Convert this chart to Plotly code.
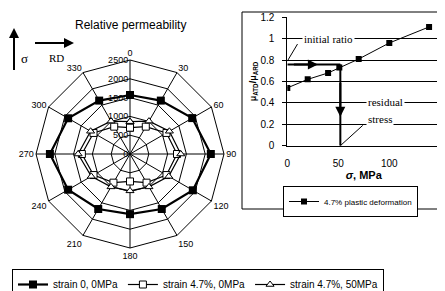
import plotly.graph_objects as go

# ---- data ----
angles = ["0", "30", "60", "90", "120", "150", "180", "210", "240", "270", "300", "330"]
strain0_0mpa = [1570, 1640, 1910, 2150, 1930, 1690, 1600, 1690, 1900, 2130, 1900, 1640]
strain47_0mpa = [700, 840, 1120, 1250, 1120, 880, 730, 880, 1120, 1280, 1120, 840]
strain47_50mpa = [860, 1010, 1210, 1350, 1190, 1010, 980, 1010, 1190, 1380, 1210, 1010]

stress_mpa = [0, 20, 40, 51, 70, 100, 139]
ratio = [0.54, 0.62, 0.68, 0.73, 0.81, 0.96, 1.11]

# page body has an 8px margin; figure sized to fit the window exactly
OFF = 8
W, H = 445 - OFF, 291 - OFF
def px(x):
    return (x - OFF) / W
def py(y):
    return 1 - (y - OFF) / H

fig = go.Figure()

def closed(v):
    return list(v) + [v[0]]

fig.add_trace(go.Scatterpolar(
    r=closed(strain0_0mpa), theta=closed(angles), mode="lines+markers",
    name="strain 0, 0MPa", line=dict(color="black", width=2.2),
    marker=dict(symbol="square", size=8, color="black"), legend="legend"))
fig.add_trace(go.Scatterpolar(
    r=closed(strain47_0mpa), theta=closed(angles), mode="lines+markers",
    name="strain 4.7%, 0MPa", line=dict(color="black", width=1.2),
    marker=dict(symbol="square", size=7, color="white", line=dict(color="black", width=1)),
    legend="legend"))
fig.add_trace(go.Scatterpolar(
    r=closed(strain47_50mpa), theta=closed(angles), mode="lines+markers",
    name="strain 4.7%, 50MPa", line=dict(color="black", width=1.2),
    marker=dict(symbol="triangle-up", size=7, color="white", line=dict(color="black", width=1)),
    legend="legend"))

fig.add_trace(go.Scatter(
    x=stress_mpa, y=ratio, mode="lines+markers", name="4.7% plastic deformation",
    line=dict(color="black", width=1), marker=dict(symbol="square", size=6, color="black"),
    xaxis="x", yaxis="y", legend="legend2"))

cx, cy, R = 130, 154, 94
fig.update_layout(
    width=W, height=H,
    margin=dict(l=0, r=0, t=0, b=0, autoexpand=False),
    paper_bgcolor="white", plot_bgcolor="white",
    font=dict(family="Liberation Sans, Arial", size=9, color="black"),
    polar=dict(
        domain=dict(x=[px(cx - R), px(cx + R)], y=[py(cy + R), py(cy - R)]),
        gridshape="linear",
        bgcolor="white",
        angularaxis=dict(rotation=90, direction="clockwise", categoryorder="array",
                         categoryarray=angles, showline=True, linecolor="black", linewidth=1,
                         gridcolor="black", gridwidth=1, ticks="", tickfont=dict(size=9)),
        radialaxis=dict(range=[0, 2500], dtick=500, angle=90, tickangle=90,
                        showline=False, gridcolor="black", gridwidth=1, ticks="",
                        side="counterclockwise", tickfont=dict(size=9)),
    ),
    xaxis=dict(domain=[px(287.3), px(440.3)], range=[0, 150], dtick=50,
               showline=True, linecolor="black", linewidth=1, showgrid=False,
               zeroline=False, ticks="", tickfont=dict(size=10), ticklabelstandoff=8,
               title=dict(text="<b><i>σ</i>, MPa</b>", font=dict(size=11), standoff=2),
               anchor="y"),
    yaxis=dict(domain=[py(145.7), py(17.3)], range=[0, 1.2], dtick=0.2,
               showline=True, linecolor="black", linewidth=1, showgrid=True,
               gridcolor="black", gridwidth=1, zeroline=False,
               ticks="outside", ticklen=4, tickcolor="black", tickfont=dict(size=10),
               ticklabelstandoff=6,
               title=dict(text="<b>μ<sub>ATD</sub>/μ<sub>ARD</sub></b>", font=dict(size=9), standoff=2),
               anchor="x"),
    legend=dict(orientation="h", x=px(12), y=py(269), xanchor="left", yanchor="top",
                bordercolor="black", borderwidth=1, bgcolor="white",
                font=dict(size=10), itemwidth=30, tracegroupgap=0),
    legend2=dict(x=px(283), y=py(186), xanchor="left", yanchor="top",
                 bordercolor="black", borderwidth=1, bgcolor="white",
                 font=dict(size=8), itemwidth=30, tracegroupgap=0),
    showlegend=True,
)

shapes = [
    dict(type="rect", xref="paper", yref="paper", x0=px(242), x1=px(444), y0=py(209), y1=py(12),
         line=dict(color="black", width=1)),
    dict(type="line", xref="x", yref="y", x0=0, x1=52, y0=0.76, y1=0.76,
         line=dict(color="black", width=2)),
    dict(type="line", xref="x", yref="y", x0=52, x1=52, y0=0.76, y1=0,
         line=dict(color="black", width=2)),
    dict(type="line", xref="x", yref="y", x0=10, x1=0, y0=0.95, y1=0.79,
         line=dict(color="black", width=1)),
    dict(type="line", xref="x", yref="y", x0=52, x1=74, y0=0, y1=0.19,
         line=dict(color="black", width=1)),
    dict(type="line", xref="paper", yref="paper", x0=px(14), x1=px(14), y0=py(70), y1=py(36),
         line=dict(color="black", width=2)),
    dict(type="line", xref="paper", yref="paper", x0=px(35), x1=px(66), y0=py(43), y1=py(43),
         line=dict(color="black", width=2)),
]
fig.update_layout(shapes=shapes)

arrow_style = dict(showarrow=True, arrowhead=2, arrowsize=1, arrowwidth=2,
                   arrowcolor="black", text="")
ann = [
    dict(text="Relative permeability", x=px(131), y=py(25), xref="paper", yref="paper",
         xanchor="center", yanchor="middle",
         showarrow=False, font=dict(size=12, family="Liberation Sans, Arial")),
    dict(x=30, y=0.76, ax=5, ay=0.76, xref="x", yref="y", axref="x", ayref="y", **arrow_style),
    dict(x=52, y=0.27, ax=52, ay=0.6, xref="x", yref="y", axref="x", ayref="y", **arrow_style),
    dict(x=px(14), y=py(28), ax=0, ay=17, xref="paper", yref="paper",
         axref="pixel", ayref="pixel", **arrow_style),
    dict(x=px(74), y=py(43), ax=-19, ay=0, xref="paper", yref="paper",
         axref="pixel", ayref="pixel", **arrow_style),
    dict(text="σ", x=px(24), y=py(58), xref="paper", yref="paper", showarrow=False,
         xanchor="center", yanchor="middle",
         font=dict(size=13, family="Liberation Serif")),
    dict(text="RD", x=px(56), y=py(58), xref="paper", yref="paper", showarrow=False,
         xanchor="center", yanchor="middle",
         font=dict(size=11, family="Liberation Serif")),
    dict(text="initial ratio", x=40, y=1.0, xref="x", yref="y", showarrow=False,
         xanchor="center", yanchor="middle",
         bgcolor="white", font=dict(size=11, family="Liberation Serif")),
    dict(text="residual", x=96, y=0.41, xref="x", yref="y", showarrow=False,
         xanchor="center", yanchor="middle",
         bgcolor="white", font=dict(size=11, family="Liberation Serif")),
    dict(text="stress", x=91, y=0.25, xref="x", yref="y", showarrow=False,
         xanchor="center", yanchor="middle",
         bgcolor="white", font=dict(size=11, family="Liberation Serif")),
]
fig.update_layout(annotations=ann)

fig.write_html("out.html")
